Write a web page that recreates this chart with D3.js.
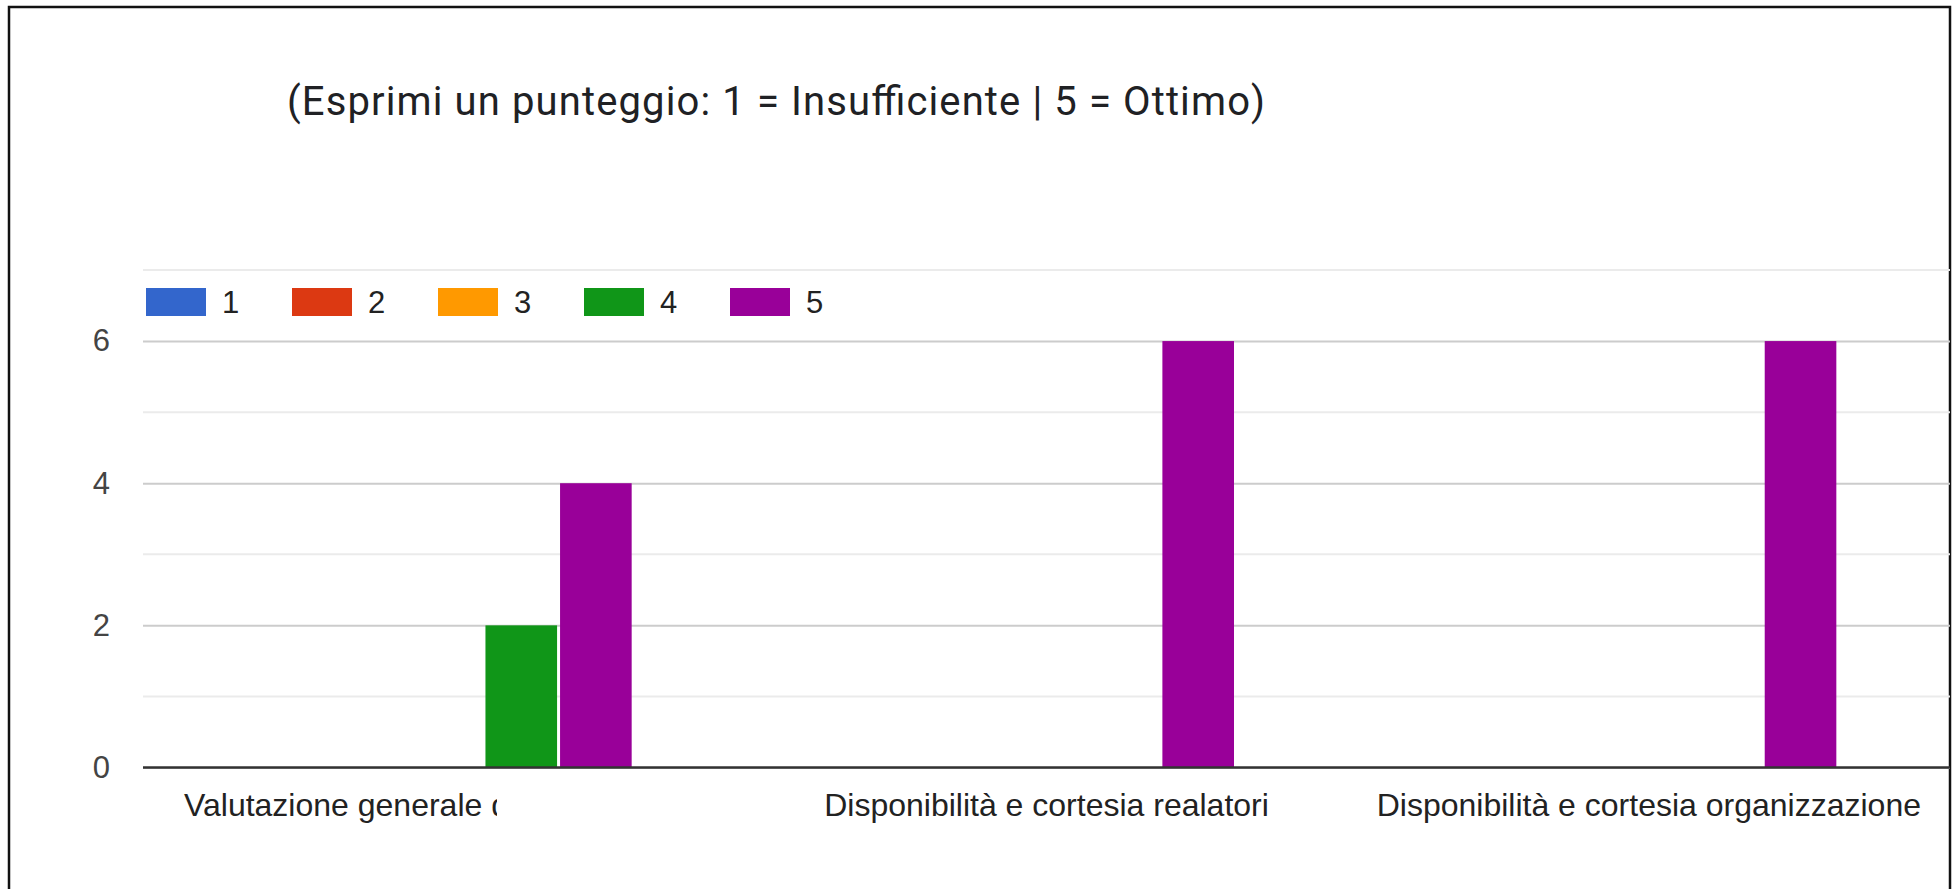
<!DOCTYPE html>
<html>
<head>
<meta charset="utf-8">
<script src="https://cdn.jsdelivr.net/npm/d3@7"></script>
<style>
  html, body { margin: 0; padding: 0; background: #fff; }
  svg { display: block; }
</style>
</head>
<body>
<div id="chart"></div>
<script>
const title = '(Esprimi un punteggio: 1 = Insufficiente | 5 = Ottimo)';
const categories = ["Valutazione generale dell'evento", 'Disponibilità e cortesia realatori', 'Disponibilità e cortesia organizzazione'];
const seriesKeys = ['1', '2', '3', '4', '5'];
const seriesColors = ['#3366cc', '#dc3912', '#ff9900', '#109618', '#990099'];
const counts1 = [0, 0, 0];
const counts2 = [0, 0, 0];
const counts3 = [0, 0, 0];
const counts4 = [2, 0, 0];
const counts5 = [4, 6, 6];
const yTicks = [0, 2, 4, 6];
const yMinorTicks = [1, 3, 5, 7];

const W = 1952, H = 889;
const plotLeft = 143, plotRight = 1950, plotTop = 270, plotBottom = 767.5;

const seriesValues = [counts1, counts2, counts3, counts4, counts5];
const data = categories.map((c, i) => ({
  cat: c,
  vals: seriesKeys.map((k, j) => ({ key: k, value: seriesValues[j][i], color: seriesColors[j] }))
}));

const svg = d3.select('#chart').append('svg')
  .attr('width', W)
  .attr('height', H);

// frame
svg.append('rect')
  .attr('x', 9).attr('y', 7)
  .attr('width', plotRight - 9).attr('height', H + 20)
  .attr('fill', 'none')
  .attr('stroke', '#111')
  .attr('stroke-width', 2.5);

svg.append('text')
  .attr('x', 287)
  .attr('y', 115)
  .attr('font-family', 'Roboto, sans-serif')
  .attr('font-size', 40)
  .attr('textLength', 978)
  .attr('lengthAdjust', 'spacing')
  .attr('fill', '#202124')
  .text(title);

const x = d3.scaleBand().domain(categories).range([plotLeft, plotRight]);
const xInner = d3.scaleBand().domain(seriesKeys).range([0, 370]).paddingInner(0.04);
const y = d3.scaleLinear().domain([0, 7]).range([plotBottom, plotTop]);

// minor grid
svg.append('g')
  .selectAll('line')
  .data(yMinorTicks)
  .join('line')
  .attr('x1', plotLeft).attr('x2', plotRight)
  .attr('y1', d => y(d)).attr('y2', d => y(d))
  .attr('stroke', '#ebebeb')
  .attr('stroke-width', 2);

const yAxis = d3.axisLeft(y)
  .tickValues(yTicks)
  .tickFormat(d3.format('d'))
  .tickSize(-(plotRight - plotLeft))
  .tickPadding(33);
svg.append('g')
  .attr('transform', `translate(${plotLeft},0)`)
  .call(yAxis)
  .call(g => g.select('.domain').remove())
  .call(g => g.selectAll('.tick line').attr('stroke', '#cccccc').attr('stroke-width', 2))
  .call(g => g.selectAll('.tick text')
    .attr('font-family', 'Arial, "Liberation Sans", sans-serif')
    .attr('font-size', 31)
    .attr('fill', '#444'));

// bars
const groups = svg.append('g')
  .selectAll('g')
  .data(data)
  .join('g')
  .attr('transform', d => `translate(${x(d.cat) + x.bandwidth() / 2 - 182.5},0)`);

groups.selectAll('rect')
  .data(d => d.vals.filter(v => v.value > 0))
  .join('rect')
  .attr('x', d => xInner(d.key))
  .attr('width', xInner.bandwidth())
  .attr('y', d => y(d.value))
  .attr('height', d => y(0) - y(d.value))
  .attr('fill', d => d.color);

// baseline
svg.append('line')
  .attr('x1', plotLeft).attr('x2', plotRight)
  .attr('y1', y(0)).attr('y2', y(0))
  .attr('stroke', '#333')
  .attr('stroke-width', 2.5);

// category labels
svg.append('clipPath').attr('id', 'clip1')
  .append('rect').attr('x', 150).attr('y', 770).attr('width', 347).attr('height', 80);

svg.append('g')
  .selectAll('text')
  .data(categories)
  .join('text')
  .attr('x', (d, i) => i === 0 ? 184 : x(d) + x.bandwidth() / 2)
  .attr('y', 816)
  .attr('text-anchor', (d, i) => i === 0 ? 'start' : 'middle')
  .attr('clip-path', (d, i) => i === 0 ? 'url(#clip1)' : null)
  .attr('font-family', 'Arial, "Liberation Sans", sans-serif')
  .attr('font-size', 32)
  .attr('fill', '#222')
  .text(d => d);

// legend
const legend = svg.append('g')
  .selectAll('g')
  .data(seriesKeys)
  .join('g')
  .attr('transform', (d, i) => `translate(${146 + i * 146},288)`);

legend.append('rect')
  .attr('width', 60).attr('height', 28)
  .attr('fill', (d, i) => seriesColors[i]);

legend.append('text')
  .attr('x', 76).attr('y', 25)
  .attr('font-family', 'Arial, "Liberation Sans", sans-serif')
  .attr('font-size', 31)
  .attr('fill', '#222')
  .text(d => d);
</script>
</body>
</html>
